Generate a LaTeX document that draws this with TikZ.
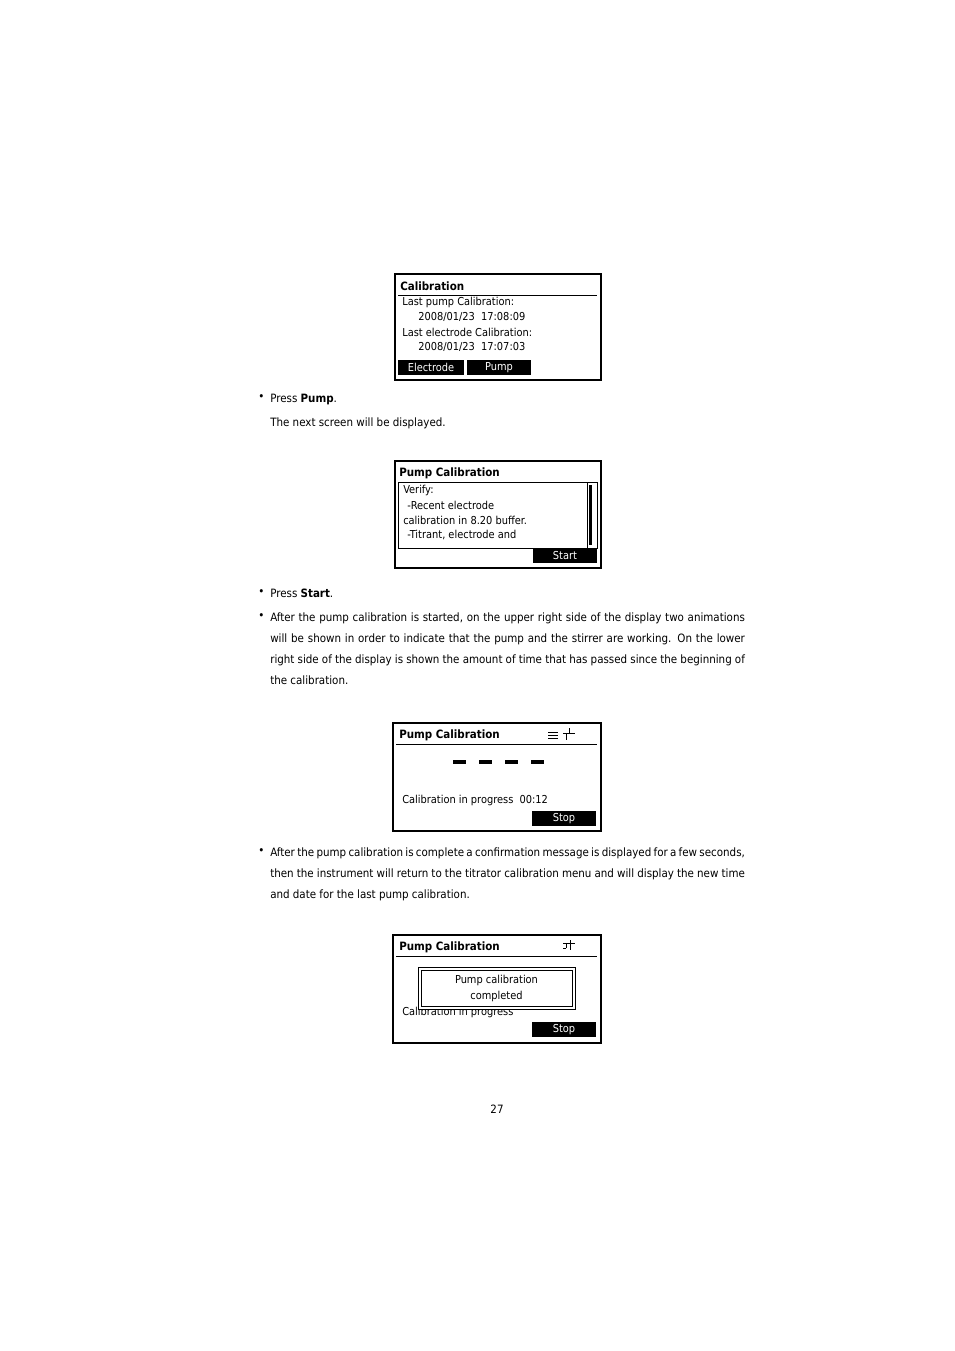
\documentclass[tikz,border=0pt]{standalone}
\usepackage{fontspec}
\setmainfont{DejaVu Sans Condensed}
\newfontfamily\lcdfont{DejaVu Sans Condensed}
\tikzset{
  screen/.style={draw, line width=2.2pt},
  lcd/.style={anchor=west, inner sep=0pt, font=\lcdfont\fontsize{8.2}{9}\selectfont},
  lcdtitle/.style={lcd, font=\lcdfont\bfseries\fontsize{8.6}{9}\selectfont},
  softkey/.style={fill=black, text=white, inner sep=0pt, font=\lcdfont\fontsize{8.2}{9}\selectfont},
  body/.style={anchor=north west, inner sep=0pt, text width=356pt, align=justify, font=\fontsize{8.6}{15.75}\selectfont},
  bullet/.style={anchor=north west, inner sep=0pt, font=\fontsize{8.6}{15.75}\selectfont}
}
\begin{document}
\begin{tikzpicture}[x=0.75pt, y=-0.75pt]
\useasboundingbox (0,0) rectangle (954,1351);

% first screen
\draw[screen] (395,274) rectangle (601,380);
\node[lcdtitle] (t1) at (400,286) {Calibration};
\draw (398,295) -- (597,295);
\node[lcd] (l1a) at (402,302) {Last pump Calibration:};
\node[lcd] (l1b) at (418,317) {2008/01/23\ \ 17:08:09};
\node[lcd] (l1c) at (402,332) {Last electrode Calibration:};
\node[lcd] (l1d) at (418,347) {2008/01/23\ \ 17:07:03};
\node[softkey, minimum width=49.5pt, minimum height=11pt] (k1a) at (431,367.5) {Electrode};
\node[softkey, minimum width=48pt, minimum height=11pt] (k1b) at (499,367.5) {Pump};

\node[bullet] (b1) at (258,394) {•};
\node[bullet] (p1) at (270,394) {Press \textbf{Pump}.};
\node[bullet] (p2) at (270,418) {The next screen will be displayed.};

% second screen
\draw[screen] (395,461) rectangle (601,568);
\node[lcdtitle] (t2) at (399,473) {Pump Calibration};
\draw (398,482) rectangle (597,548);
\node[lcd] (l2a) at (403,490) {Verify:};
\node[lcd] (l2b) at (407,505) {-Recent electrode};
\node[lcd] (l2c) at (403,520) {calibration in 8.20 buffer.};
\node[lcd] (l2d) at (407,535) {-Titrant, electrode and};
\draw (587,482) -- (587,548);
\fill (589,485) rectangle (592,545);
\node[softkey, minimum width=48pt, minimum height=11pt] (k2) at (565,555.5) {Start};

\node[bullet] (b2) at (258,589) {•};
\node[bullet] (p3) at (270,589) {Press \textbf{Start}.};
\node[bullet] (b3) at (258,613) {•};
\node[body] (p4) at (270,613) {After the pump calibration is started, on the upper right side of the display two animations will be shown in order to indicate that the pump and the stirrer are working. On the lower right side of the display is shown the amount of time that has passed since the beginning of the calibration.};

% third screen
\draw[screen] (393,723) rectangle (601,831);
\node[lcdtitle] (t3) at (399,735) {Pump Calibration};
\draw (396,744) -- (597,744);
\draw (548,732) -- (558,732) (548,735) -- (558,735) (548,738) -- (558,738);
\draw (563,733) -- (575,733) (569,728) -- (569,733) (566,733) -- (566,740);
\foreach \dx in {453,479,505,531}
  \fill (\dx,760) rectangle (\dx+13,764);
\node[lcd] (l3) at (402,800) {Calibration in progress\ \ 00:12};
\node[softkey, minimum width=48pt, minimum height=11pt] (k3) at (564,818.5) {Stop};

\node[bullet] (b4) at (258,848) {•};
\node[body] (p5) at (270,848) {After the pump calibration is complete a confirmation message is displayed for a few seconds, then the instrument will return to the titrator calibration menu and will display the new time and date for the last pump calibration.};

% fourth screen
\draw[screen] (393,935) rectangle (601,1043);
\node[lcdtitle] (t4) at (399,947) {Pump Calibration};
\draw (396,956) -- (597,956);
\draw (563,943) -- (575,943) (570,940) -- (570,950) (566,943) -- (566,948) (566,948) -- (563,948);
\node[lcd] (l4) at (402,1012) {Calibration in progress};
\fill[white] (418,967) rectangle (575,1009);
\draw (418,967) rectangle (575,1009);
\draw (421,970) rectangle (572,1006);
\node[lcd, anchor=center] (m1) at (496.5,980) {Pump calibration};
\node[lcd, anchor=center] (m2) at (496.5,996) {completed};
\node[softkey, minimum width=48pt, minimum height=11pt] (k4) at (564,1029.5) {Stop};

\node[bullet, anchor=center] (pg) at (497,1109) {27};
\end{tikzpicture}
\end{document}
